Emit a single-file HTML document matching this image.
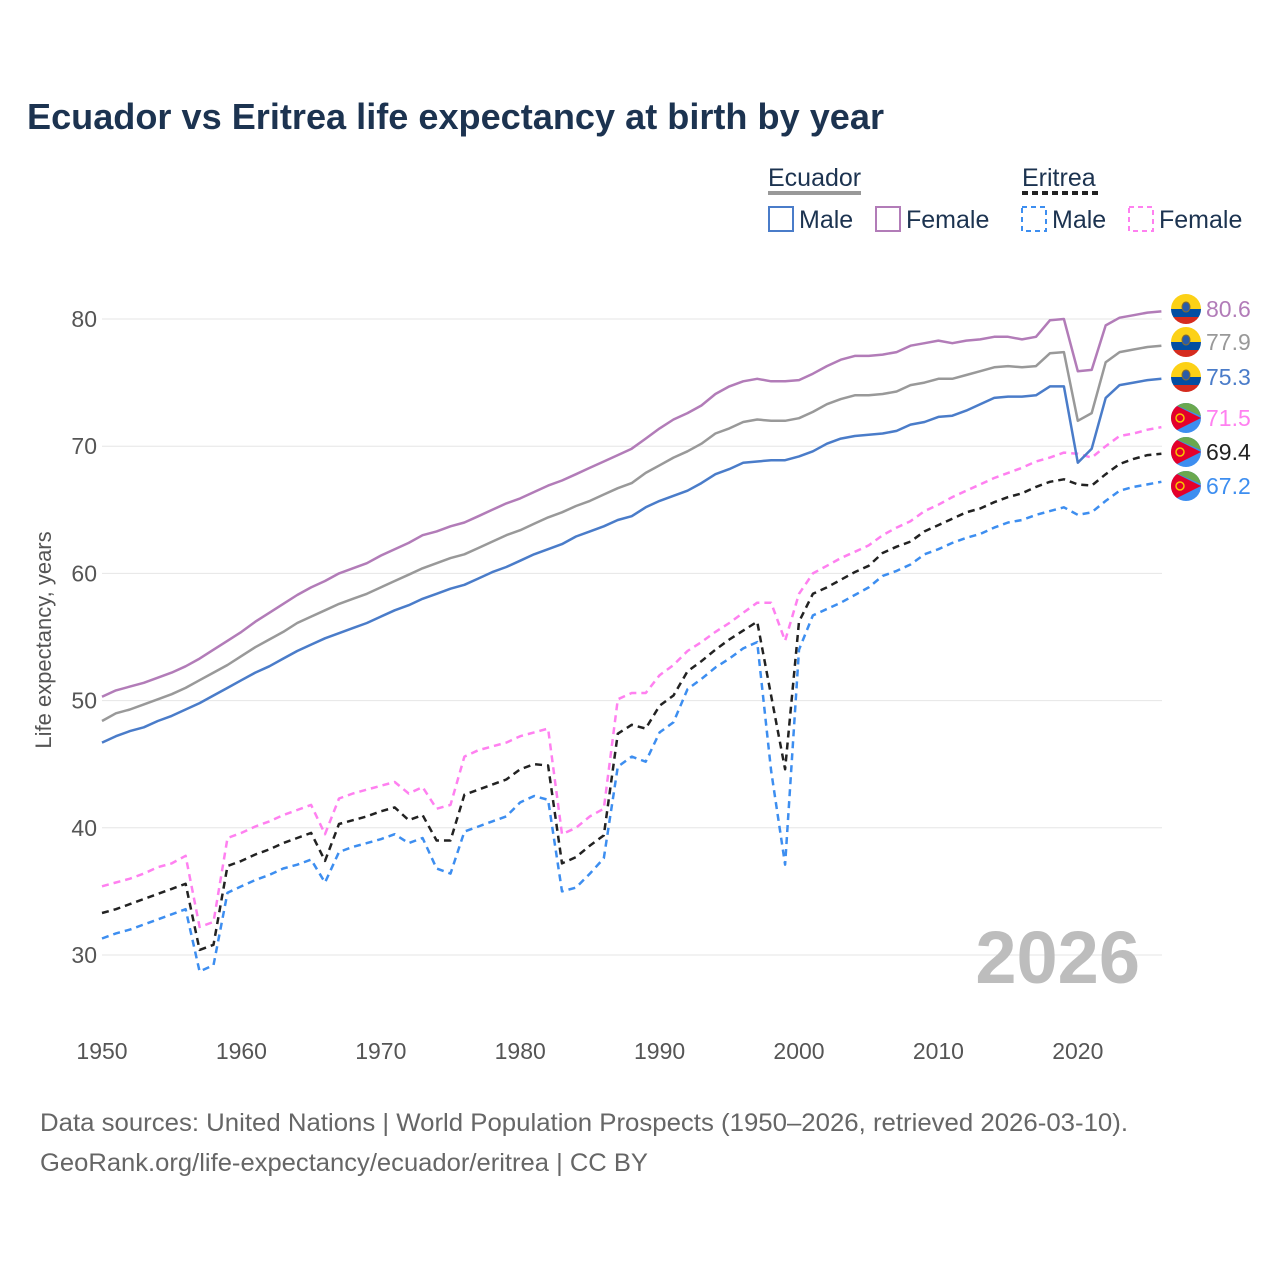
<!DOCTYPE html>
<html><head><meta charset="utf-8">
<style>
body{margin:0;background:#fff;font-family:"Liberation Sans",sans-serif;}
svg text{font-family:"Liberation Sans",sans-serif;}
</style></head>
<body>
<svg id="chart" width="1280" height="1280" viewBox="0 0 1280 1280" xmlns="http://www.w3.org/2000/svg">
<rect width="1280" height="1280" fill="#fff"/>
<text x="27" y="129" font-size="36" font-weight="bold" fill="#1c3350" textLength="857" lengthAdjust="spacingAndGlyphs">Ecuador vs Eritrea life expectancy at birth by year</text>
<g font-size="25" fill="#1c3350">
<text x="768" y="186">Ecuador</text>
<line x1="768" y1="193" x2="861" y2="193" stroke="#999" stroke-width="4"/>
<text x="1022" y="186">Eritrea</text>
<line x1="1022" y1="193" x2="1100" y2="193" stroke="#222" stroke-width="4" stroke-dasharray="6,4"/>
<g><rect x="769" y="207" width="24" height="24" fill="none" stroke="#4a7cc9" stroke-width="2"/><text x="799" y="228">Male</text></g>
<g><rect x="876" y="207" width="24" height="24" fill="none" stroke="#b27cb8" stroke-width="2"/><text x="906" y="228">Female</text></g>
<g><rect x="1022" y="207" width="24" height="24" fill="none" stroke="#3d8ef0" stroke-width="2" stroke-dasharray="5,4"/><text x="1052" y="228">Male</text></g>
<g><rect x="1129" y="207" width="24" height="24" fill="none" stroke="#ff80f0" stroke-width="2" stroke-dasharray="5,4"/><text x="1159" y="228">Female</text></g>
</g>
<g id="grid"></g>
<g id="series"></g>
<g id="labels"></g>
<text x="1140" y="983" font-size="74" font-weight="bold" fill="#bdbdbd" text-anchor="end">2026</text>
<text transform="translate(51,640) rotate(-90)" font-size="22" fill="#555" text-anchor="middle">Life expectancy, years</text>
<text x="40" y="1131" font-size="25" fill="#666" textLength="1088" lengthAdjust="spacingAndGlyphs">Data sources: United Nations | World Population Prospects (1950–2026, retrieved 2026-03-10).</text>
<text x="40" y="1171" font-size="25" fill="#666" textLength="608" lengthAdjust="spacingAndGlyphs">GeoRank.org/life-expectancy/ecuador/eritrea | CC BY</text>
</svg>
<script>
const startYear = 1950;
const yTicks = [30,40,50,60,70,80];
const xTicks = [1950,1960,1970,1980,1990,2000,2010,2020];
const ecuadorFemale = [50.3,50.8,51.1,51.4,51.8,52.2,52.7,53.3,54.0,54.7,
55.4,56.2,56.9,57.6,58.3,58.9,59.4,60.0,60.4,60.8,
61.4,61.9,62.4,63.0,63.3,63.7,64.0,64.5,65.0,65.5,
65.9,66.4,66.9,67.3,67.8,68.3,68.8,69.3,69.8,70.6,
71.4,72.1,72.6,73.2,74.1,74.7,75.1,75.3,75.1,75.1,
75.2,75.7,76.3,76.8,77.1,77.1,77.2,77.4,77.9,78.1,
78.3,78.1,78.3,78.4,78.6,78.6,78.4,78.6,79.9,80.0,
75.9,76.0,79.5,80.1,80.3,80.5,80.6];
const ecuadorTotal = [48.4,49.0,49.3,49.7,50.1,50.5,51.0,51.6,52.2,52.8,
53.5,54.2,54.8,55.4,56.1,56.6,57.1,57.6,58.0,58.4,
58.9,59.4,59.9,60.4,60.8,61.2,61.5,62.0,62.5,63.0,
63.4,63.9,64.4,64.8,65.3,65.7,66.2,66.7,67.1,67.9,
68.5,69.1,69.6,70.2,71.0,71.4,71.9,72.1,72.0,72.0,
72.2,72.7,73.3,73.7,74.0,74.0,74.1,74.3,74.8,75.0,
75.3,75.3,75.6,75.9,76.2,76.3,76.2,76.3,77.3,77.4,
72.0,72.6,76.6,77.4,77.6,77.8,77.9];
const ecuadorMale = [46.7,47.2,47.6,47.9,48.4,48.8,49.3,49.8,50.4,51.0,
51.6,52.2,52.7,53.3,53.9,54.4,54.9,55.3,55.7,56.1,
56.6,57.1,57.5,58.0,58.4,58.8,59.1,59.6,60.1,60.5,
61.0,61.5,61.9,62.3,62.9,63.3,63.7,64.2,64.5,65.2,
65.7,66.1,66.5,67.1,67.8,68.2,68.7,68.8,68.9,68.9,
69.2,69.6,70.2,70.6,70.8,70.9,71.0,71.2,71.7,71.9,
72.3,72.4,72.8,73.3,73.8,73.9,73.9,74.0,74.7,74.7,
68.7,69.8,73.8,74.8,75.0,75.2,75.3];
const eritreaFemale = [35.4,35.7,36.0,36.4,36.9,37.2,37.8,32.2,32.6,39.2,
39.6,40.1,40.5,41.0,41.4,41.8,39.5,42.3,42.7,43.0,
43.3,43.6,42.7,43.2,41.5,41.8,45.6,46.1,46.4,46.7,
47.2,47.5,47.8,39.5,40.0,40.9,41.5,50.1,50.6,50.6,
52.0,52.8,53.9,54.6,55.4,56.1,56.9,57.7,57.7,54.7,
58.4,60.0,60.6,61.2,61.7,62.2,63.0,63.6,64.1,64.9,
65.4,66.0,66.5,67.0,67.5,67.9,68.3,68.8,69.1,69.5,
69.4,69.1,70.0,70.8,71.0,71.3,71.5];
const eritreaTotal = [33.3,33.6,34.0,34.4,34.8,35.2,35.6,30.4,30.8,37.0,
37.4,37.9,38.3,38.8,39.2,39.6,37.4,40.3,40.6,40.9,
41.3,41.6,40.6,41.0,39.0,39.0,42.6,43.0,43.4,43.8,
44.6,45.0,44.9,37.2,37.7,38.6,39.4,47.4,48.1,47.8,
49.6,50.4,52.3,53.1,54.0,54.8,55.5,56.2,50.4,44.6,
56.2,58.4,58.9,59.5,60.1,60.6,61.6,62.1,62.5,63.3,
63.8,64.3,64.8,65.1,65.6,66.0,66.3,66.8,67.2,67.4,
67.0,66.9,67.8,68.6,69.0,69.3,69.4];
const eritreaMale = [31.3,31.7,32.0,32.4,32.8,33.2,33.6,28.7,29.2,34.9,
35.4,35.9,36.3,36.8,37.1,37.5,35.7,38.1,38.5,38.8,
39.1,39.5,38.8,39.2,36.8,36.4,39.7,40.1,40.5,40.9,
42.0,42.5,42.2,35.0,35.3,36.4,37.6,44.8,45.6,45.2,
47.5,48.3,50.9,51.7,52.6,53.3,54.1,54.6,44.5,37.1,
54.0,56.7,57.2,57.7,58.3,58.9,59.8,60.2,60.7,61.5,
61.9,62.4,62.8,63.1,63.6,64.0,64.2,64.6,64.9,65.2,
64.6,64.8,65.7,66.5,66.8,67.0,67.2];

const NS="http://www.w3.org/2000/svg";
function xs(yr){return 102+(yr-1950)*13.94;}
function ys(v){return 319+(80-v)*12.72;}
function mk(tag,attrs,parent){const e=document.createElementNS(NS,tag);for(const k in attrs)e.setAttribute(k,attrs[k]);parent.appendChild(e);return e;}

const grid=document.getElementById('grid');
yTicks.forEach(t=>{
  const l=mk('line',{x1:102,x2:1162,y1:ys(t),y2:ys(t),stroke:'#e6e6e6','stroke-width':1},grid);
  
  
  const tx=mk('text',{x:97,y:ys(t)+8,'font-size':23,fill:'#555','text-anchor':'end'},grid);
  tx.textContent=t;
  
  
});
xTicks.forEach(t=>{
  const tx=mk('text',{x:xs(t),y:1059,'font-size':23,fill:'#555','text-anchor':'middle'},grid);
  tx.textContent=t;
  
  
});

const seriesG=document.getElementById('series');
const labelsG=document.getElementById('labels');
const defs=[
 {d:eritreaMale,c:'#3d8ef0',dash:'7,5',name:'eritrea-male',ly:486,flag:'er'},
 {d:eritreaFemale,c:'#ff80f0',dash:'7,5',name:'eritrea-female',ly:418,flag:'er'},
 {d:eritreaTotal,c:'#222',dash:'7,5',name:'eritrea-total',ly:452,flag:'er',lc:'#222'},
 {d:ecuadorMale,c:'#4a7cc9',dash:null,name:'ecuador-male',ly:377,flag:'ec'},
 {d:ecuadorTotal,c:'#999',dash:null,name:'ecuador-total',ly:342,flag:'ec'},
 {d:ecuadorFemale,c:'#b27cb8',dash:null,name:'ecuador-female',ly:309,flag:'ec'}
];
defs.forEach(s=>{
  const pts=s.d.map((v,i)=>xs(startYear+i).toFixed(1)+','+ys(v).toFixed(1)).join(' ');
  const a={points:pts,fill:'none',stroke:s.c,'stroke-width':2.5,'stroke-linejoin':'round'};
  if(s.dash)a['stroke-dasharray']=s.dash;
  const p=mk('polyline',a,seriesG);
  
  
  const last=s.d[s.d.length-1];
  const g=mk('g',{},labelsG);
  
  
  const cx=1186,cy=s.ly;
  mk('clipPath',{id:'c'+s.name},g).appendChild(document.createElementNS(NS,'circle'));
  const cc=g.lastChild.firstChild;cc.setAttribute('cx',cx);cc.setAttribute('cy',cy);cc.setAttribute('r',15);
  const f=mk('g',{'clip-path':'url(#c'+s.name+')'},g);
  if(s.flag==='ec'){
    mk('rect',{x:cx-15,y:cy-15,width:30,height:15,fill:'#fcd116'},f);
    mk('rect',{x:cx-15,y:cy,width:30,height:8,fill:'#034ea2'},f);
    mk('rect',{x:cx-15,y:cy+8,width:30,height:8,fill:'#d52b1e'},f);
    mk('ellipse',{cx:cx,cy:cy-2,rx:4,ry:5,fill:'#2a5ca8',stroke:'#8a6d2a','stroke-width':1},f);
  } else {
    mk('rect',{x:cx-15,y:cy-15,width:30,height:30,fill:'#3d8ef0'},f);
    mk('polygon',{points:(cx-15)+','+(cy-15)+' '+(cx+15)+','+(cy-15)+' '+(cx+15)+','+(cy-2),fill:'#6aa84f'},f);
    mk('polygon',{points:(cx-15)+','+(cy-15)+' '+(cx+15)+','+(cy)+' '+(cx-15)+','+(cy+15),fill:'#e4002b'},f);
    mk('circle',{cx:cx-6,cy:cy,r:4,fill:'none',stroke:'#f7c600','stroke-width':1.5},f);
  }
  const t=mk('text',{x:1206,y:cy+8,'font-size':23,fill:s.lc||s.c},g);
  t.textContent=last.toFixed(1);
});
</script>
</body></html>
